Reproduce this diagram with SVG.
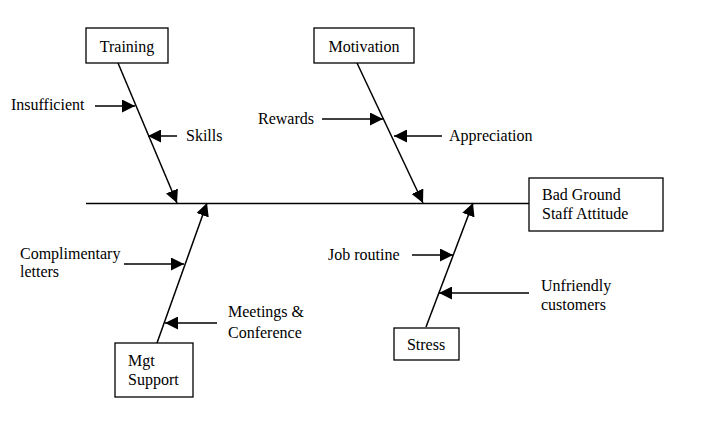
<svg xmlns="http://www.w3.org/2000/svg" width="706" height="422" viewBox="0 0 706 422">
<defs>
<marker id="ah" markerUnits="userSpaceOnUse" markerWidth="14" markerHeight="13" refX="13" refY="6.5" orient="auto">
<path d="M0,0 L13,6.5 L0,13 z" fill="#000"/>
</marker>
<style>
.box{fill:#fff;stroke:#000;stroke-width:1.3}
.ln{stroke:#000;stroke-width:1.3;fill:none}
.ar{stroke:#000;stroke-width:1.5;fill:none;marker-end:url(#ah)}
text{font-family:"Liberation Serif","Times New Roman",serif;font-size:16px;fill:#000}
.c{text-anchor:middle}
</style>
</defs>
<rect width="706" height="422" fill="#fff"/>
<g id="connectors">
<line class="ln" x1="86" y1="203.5" x2="529" y2="203.5" stroke="#333"/>
<line class="ar" x1="118" y1="63" x2="177" y2="203"/>
<line class="ar" x1="357" y1="63" x2="423" y2="203"/>
<line class="ar" x1="157" y1="343" x2="207" y2="203"/>
<line class="ar" x1="426" y1="327" x2="473" y2="203"/>
<line class="ar" x1="95" y1="106" x2="135" y2="106"/>
<line class="ar" x1="177" y1="136" x2="148" y2="136"/>
<line class="ar" x1="322" y1="119" x2="383" y2="119"/>
<line class="ar" x1="442" y1="136" x2="394" y2="136"/>
<line class="ar" x1="124" y1="264" x2="184" y2="264"/>
<line class="ar" x1="217" y1="323" x2="165" y2="323"/>
<line class="ar" x1="412" y1="255" x2="453" y2="255"/>
<line class="ar" x1="529" y1="293" x2="439" y2="293"/>
</g>
<g id="labels">
<text x="11" y="110">Insufficient</text>
<text x="186" y="141">Skills</text>
<text x="258" y="124">Rewards</text>
<text x="449" y="141">Appreciation</text>
<text x="20" y="259">Complimentary</text>
<text x="20" y="277">letters</text>
<text x="228" y="317">Meetings &amp;</text>
<text x="228" y="338">Conference</text>
<text x="328" y="260">Job routine</text>
<text x="541" y="291">Unfriendly</text>
<text x="541" y="310">customers</text>
</g>
<g id="training">
<rect class="box" x="86" y="28" width="82" height="35"/>
<text class="c" x="127" y="52">Training</text>
</g>
<g id="motivation">
<rect class="box" x="314" y="28" width="100" height="35"/>
<text class="c" x="364" y="52">Motivation</text>
</g>
<g id="effect">
<rect class="box" x="529" y="178" width="134" height="53"/>
<text x="542" y="200">Bad Ground</text>
<text x="542" y="219">Staff Attitude</text>
</g>
<g id="mgt-support">
<rect class="box" x="115" y="343" width="78" height="54"/>
<text x="128" y="366">Mgt</text>
<text x="128" y="385">Support</text>
</g>
<g id="stress">
<rect class="box" x="394" y="328" width="65" height="32"/>
<text class="c" x="426" y="350">Stress</text>
</g>
</svg>
